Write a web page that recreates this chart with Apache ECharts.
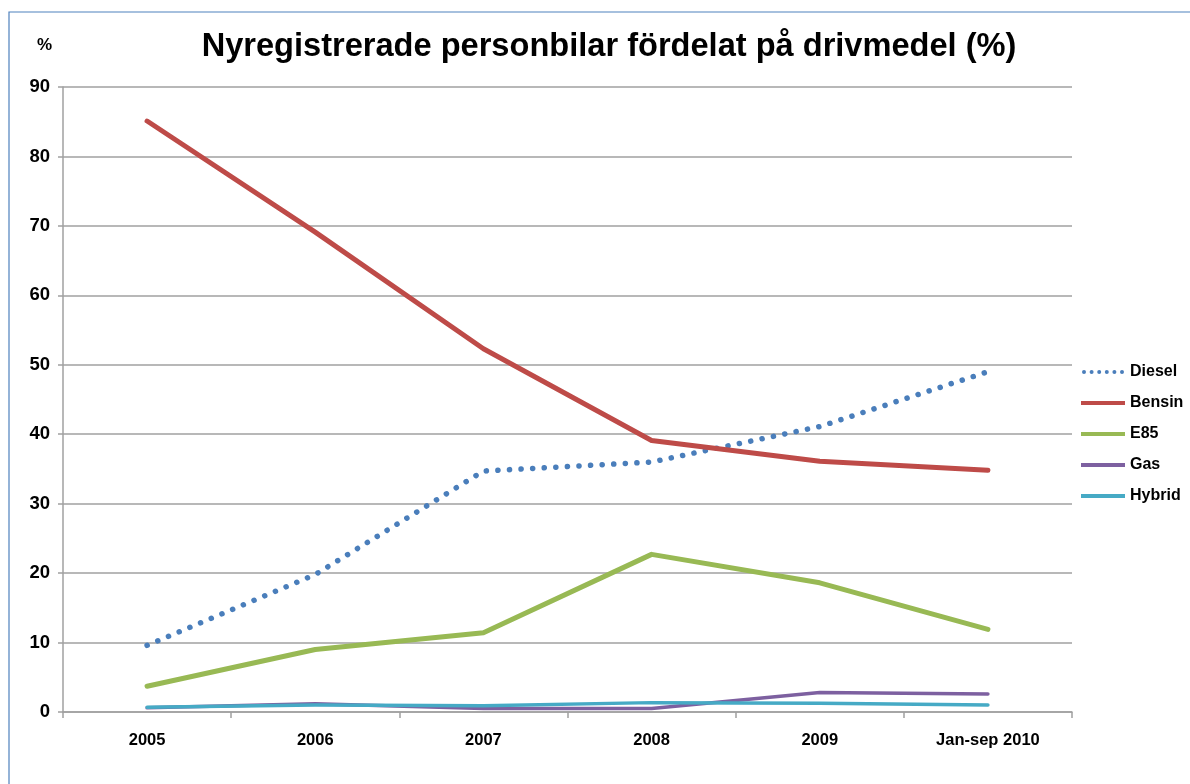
<!DOCTYPE html>
<html>
<head>
<meta charset="utf-8">
<script src="https://cdn.jsdelivr.net/npm/echarts@6/dist/echarts.min.js"></script>
<style>
  html, body { margin: 0; padding: 0; background: #fff; }
  #chart { width: 1190px; height: 784px; }
</style>
</head>
<body>
<div id="chart"></div>
<script>
        // data
        const years = ['2005', '2006', '2007', '2008', '2009', 'Jan-sep 2010'];
        const diesel = [9.6, 19.8, 34.7, 36.0, 41.1, 49.0];
        const bensin = [85.1, 69.1, 52.3, 39.1, 36.1, 34.8];
        const e85 = [3.7, 9.0, 11.4, 22.7, 18.6, 11.9];
        const gas = [0.6, 1.2, 0.5, 0.5, 2.8, 2.6];
        const hybrid = [0.7, 1.0, 0.9, 1.35, 1.25, 1.0];
        const yTicks = [0, 10, 20, 30, 40, 50, 60, 70, 80, 90];

        const chartDom = document.getElementById('chart');
        const myChart = echarts.init(chartDom);

        const font = 'Liberation Sans, Arial, sans-serif';

        // dotted legend icon (6 dots)
        let dotPath = 'path://';
        for (let i = 0; i < 6; i++) {
            const cx = 2 + i * 7.6;
            dotPath += 'M' + (cx - 2) + ',2 a2,2 0 1,0 4,0 a2,2 0 1,0 -4,0 z ';
        }

        function lineSeries(name, data, color, width, type) {
            return {
                name: name,
                type: 'line',
                data: data,
                symbol: 'none',
                smooth: false,
                lineStyle: {
                    color: color,
                    width: width,
                    type: type || 'solid',
                    cap: 'round',
                    join: 'round'
                },
                itemStyle: { color: color }
            };
        }

        const option = {
            backgroundColor: '#fff',
            animation: false,
            title: {
                text: 'Nyregistrerade personbilar fördelat på drivmedel (%)',
                left: 604,
                textAlign: 'center',
                top: 26,
                textStyle: {
                    fontFamily: font,
                    fontWeight: 'bold',
                    fontSize: 32.6,
                    color: '#000'
                }
            },
            graphic: [
                {
                    type: 'rect',
                    shape: { x: 9, y: 12, width: 1200, height: 800 },
                    style: { fill: 'none', stroke: '#4f81bd', lineWidth: 1.2 }
                },
                {
                    type: 'text',
                    left: 37,
                    top: 37,
                    style: {
                        text: '%',
                        font: 'bold 17px ' + font,
                        fill: '#000'
                    }
                }
            ],
            legend: {
                orient: 'vertical',
                left: 1076,
                top: 359,
                itemWidth: 44,
                itemHeight: 4,
                itemGap: 15,
                textStyle: {
                    fontFamily: font,
                    fontWeight: 'bold',
                    fontSize: 16,
                    color: '#000'
                },
                data: [
                    { name: 'Diesel', icon: dotPath },
                    { name: 'Bensin', icon: 'rect' },
                    { name: 'E85', icon: 'rect' },
                    { name: 'Gas', icon: 'rect' },
                    { name: 'Hybrid', icon: 'rect' }
                ]
            },
            grid: {
                left: 63,
                right: 118,
                top: 87,
                bottom: 72,
                containLabel: false
            },
            xAxis: {
                type: 'category',
                data: years,
                boundaryGap: true,
                axisLine: { lineStyle: { color: '#a0a0a0', width: 1.5 } },
                axisTick: { show: true, length: 6, lineStyle: { color: '#a0a0a0', width: 1.5 } },
                axisLabel: {
                    margin: 20,
                    fontFamily: font,
                    fontWeight: 'bold',
                    fontSize: 16.5,
                    color: '#000'
                }
            },
            yAxis: {
                type: 'value',
                min: yTicks[0],
                max: yTicks[yTicks.length - 1],
                interval: 10,
                axisLine: { show: true, lineStyle: { color: '#a0a0a0', width: 1.5 } },
                axisTick: { show: true, length: 5, lineStyle: { color: '#a0a0a0', width: 1.5 } },
                splitLine: { lineStyle: { color: '#a0a0a0', width: 1.5 } },
                axisLabel: {
                    margin: 13,
                    fontFamily: font,
                    fontWeight: 'bold',
                    fontSize: 18.5,
                    color: '#000'
                }
            },
            series: [
                lineSeries('Diesel', diesel, '#4a7ebb', 5.5, [0.1, 11.5]),
                lineSeries('Bensin', bensin, '#be4b48', 5),
                lineSeries('E85', e85, '#98b954', 5),
                lineSeries('Gas', gas, '#7d60a0', 3.5),
                lineSeries('Hybrid', hybrid, '#46aac5', 3.5)
            ]
        };

        myChart.setOption(option);

        window.addEventListener('resize', () => {
            myChart.resize();
        });
</script>
</body>
</html>
